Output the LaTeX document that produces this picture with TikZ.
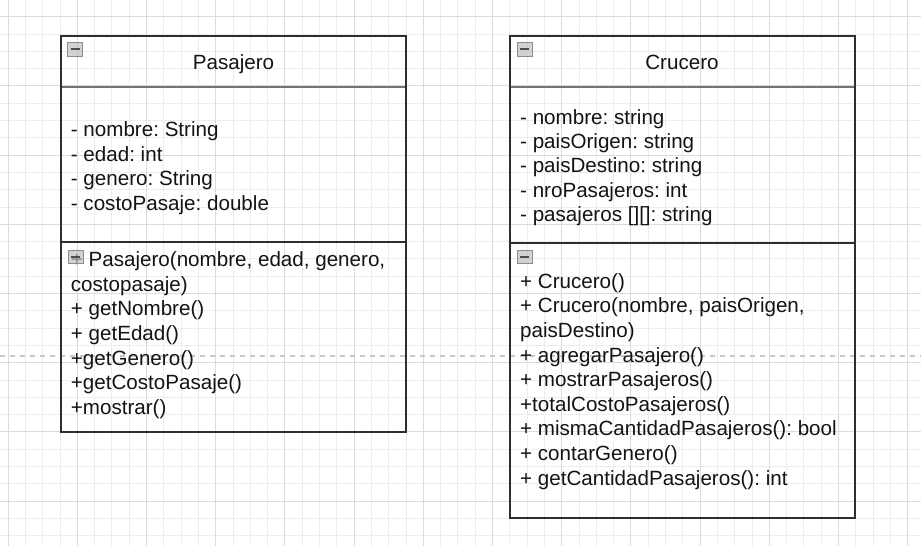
\documentclass[tikz,border=0pt]{standalone}
\usepackage{fontspec}
\setmainfont{Liberation Sans}
\frenchspacing

\begin{document}
\begin{tikzpicture}[x=1pt,y=-1pt,
    minorline/.style={draw=black!7, line width=1pt},
    majorline/.style={draw=black!14, line width=1pt},
    pageline/.style={draw=black!22, line width=1.3pt, dash pattern=on 5pt off 5pt},
    classbox/.style={draw=black!82, line width=2pt},
    headline/.style={draw=black!55, line width=1.2pt},
    member/.style={anchor=base west, inner sep=0pt, text=black!92, font=\fontsize{20.6}{24.6}\selectfont},
    classname/.style={anchor=base, inner sep=0pt, text=black!92, font=\fontsize{20.6}{24.6}\selectfont},
    foldicon/.style={fill=black!25, draw=black!45, line width=0.8pt, fill opacity=0.7}]
  \useasboundingbox (0,0) rectangle (921,546);
  \fill[white] (0,0) rectangle (921,546);

  \foreach \k in {0,...,52}
    \draw[minorline] ({8.1+17.3*\k},0) -- ({8.1+17.3*\k},546);
  \foreach \k in {0,...,30}
    \draw[minorline] (0,{16.7+17.3*\k}) -- (921,{16.7+17.3*\k});
  \foreach \k in {0,4,...,52}
    \draw[majorline] ({8.1+17.3*\k},0) -- ({8.1+17.3*\k},546);
  \foreach \k in {0,4,...,28}
    \draw[majorline] (0,{16.7+17.3*\k}) -- (921,{16.7+17.3*\k});
  \draw[pageline] (0,356) -- (921,356);

  % Pasajero
  \draw[headline] (61,87) -- (406,87);
  \draw[classbox] (61,242) -- (406,242);
  \draw[classbox] (61,36) rectangle (406,432);
  \node[classname] (pasTitle) at (233.5,69) {Pasajero};
  \foreach \t [count=\i from 0] in {{- nombre: String}, {- edad: int}, {- genero: String}, {- costoPasaje: double}}
    \node[member] (pasAttr\i) at (70.7,{136.5+24.5*\i}) {\t};
  \foreach \t [count=\i from 0] in {{+ Pasajero(nombre, edad, genero,}, {costopasaje)}, {+ getNombre()}, {+ getEdad()}, {+getGenero()}, {+getCostoPasaje()}, {+mostrar()}}
    \node[member] (pasOp\i) at (70.7,{266.7+24.6*\i}) {\t};
  \filldraw[foldicon] (67.5,42) rectangle (82.5,56.5);
  \draw[black!70, line width=1.8pt] (70.5,49.25) -- (79.5,49.25);
  \filldraw[foldicon] (68,250) rectangle (83,263.5);
  \draw[black!70, line width=1.8pt] (71,256.75) -- (80,256.75);

  % Crucero
  \draw[headline] (509.5,87) -- (855,87);
  \draw[classbox] (509.5,243) -- (855,243);
  \draw[classbox] (509.5,36) rectangle (855,518);
  \node[classname] (cruTitle) at (682,69.5) {Crucero};
  \foreach \t [count=\i from 0] in {{- nombre: string}, {- paisOrigen: string}, {- paisDestino: string}, {- nroPasajeros: int}, {- pasajeros [][]: string}}
    \node[member] (cruAttr\i) at (520,{124+24.45*\i}) {\t};
  \foreach \t [count=\i from 0] in {{+ Crucero()}, {+ Crucero(nombre, paisOrigen,}, {paisDestino)}, {+ agregarPasajero()}, {+ mostrarPasajeros()}, {+totalCostoPasajeros()}, {+ mismaCantidadPasajeros(): bool}, {+ contarGenero()}, {+ getCantidadPasajeros(): int}}
    \node[member] (cruOp\i) at (520,{288.3+24.6*\i}) {\t};
  \filldraw[foldicon] (517,42) rectangle (532,56.5);
  \draw[black!70, line width=1.8pt] (520,49.25) -- (529,49.25);
  \filldraw[foldicon] (517,250) rectangle (532,263.5);
  \draw[black!70, line width=1.8pt] (520,256.75) -- (529,256.75);
\end{tikzpicture}
\end{document}
